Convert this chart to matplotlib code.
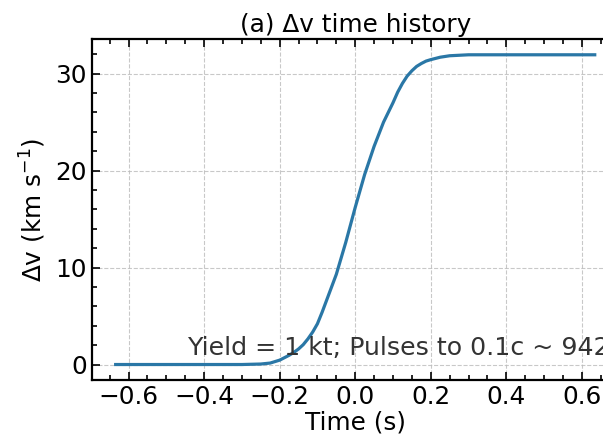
import numpy as np
import matplotlib.pyplot as plt
from matplotlib.ticker import MultipleLocator

# Delta-v history
time_s = [-0.634, -0.4, -0.3, -0.25, -0.225, -0.2, -0.1875, -0.175, -0.1625, -0.15,
          -0.1375, -0.125, -0.1125, -0.1, -0.0875, -0.075, -0.05, -0.025, 0.0, 0.025,
          0.05, 0.075, 0.1, 0.1125, 0.125, 0.1375, 0.15, 0.1625, 0.175, 0.1875,
          0.2, 0.225, 0.25, 0.3, 0.4, 0.634]
dv_kms = [0.0, 0.0, 0.0, 0.05, 0.15, 0.45, 0.7, 0.95, 1.25, 1.6,
          2.05, 2.65, 3.35, 4.2, 5.4, 6.7, 9.3, 12.6, 16.2, 19.6,
          22.5, 25.0, 27.0, 28.1, 29.0, 29.75, 30.3, 30.75, 31.05, 31.3,
          31.45, 31.7, 31.85, 31.95, 31.95, 31.95]

# the original is cropped at the right edge, so this note runs off the figure
note = "Yield = 1 kt; Pulses to 0.1c ~ 9420 pulses"

fs = 17.8
plt.rcParams['font.size'] = fs
fig = plt.figure(figsize=(6.03, 4.47), dpi=100)
# axes runs past the right edge, like the cropped original
ax = fig.add_axes([91.7 / 603, 67 / 447, 527 / 603, 340.7 / 447])

ax.plot(time_s, dv_kms, color='#2a77a6', lw=2.3)
ax.text(-0.445, 0.95, note, fontsize=18.2, color='#333333', va='baseline')

ax.set_title("(a) \u0394v time history", fontsize=fs, pad=5)
ax.set_xlabel("Time (s)", fontsize=fs, labelpad=1)
ax.set_ylabel("\u0394v (km s$^{-1}$)", fontsize=fs, labelpad=5)

ax.xaxis.set_major_locator(MultipleLocator(0.2))
ax.xaxis.set_minor_locator(MultipleLocator(0.05))
ax.yaxis.set_major_locator(MultipleLocator(10))
ax.yaxis.set_minor_locator(MultipleLocator(2))
ax.tick_params(which='both', direction='in', top=True, right=True, labelsize=fs, width=1.2)
ax.tick_params(which='major', length=6)
ax.tick_params(which='minor', length=3.5)
for s in ax.spines.values():
    s.set_linewidth(1.6)
ax.grid(True, ls='--', color='#bbbbbb', lw=0.8, alpha=0.8)

fig.savefig("out.png", dpi=100)
